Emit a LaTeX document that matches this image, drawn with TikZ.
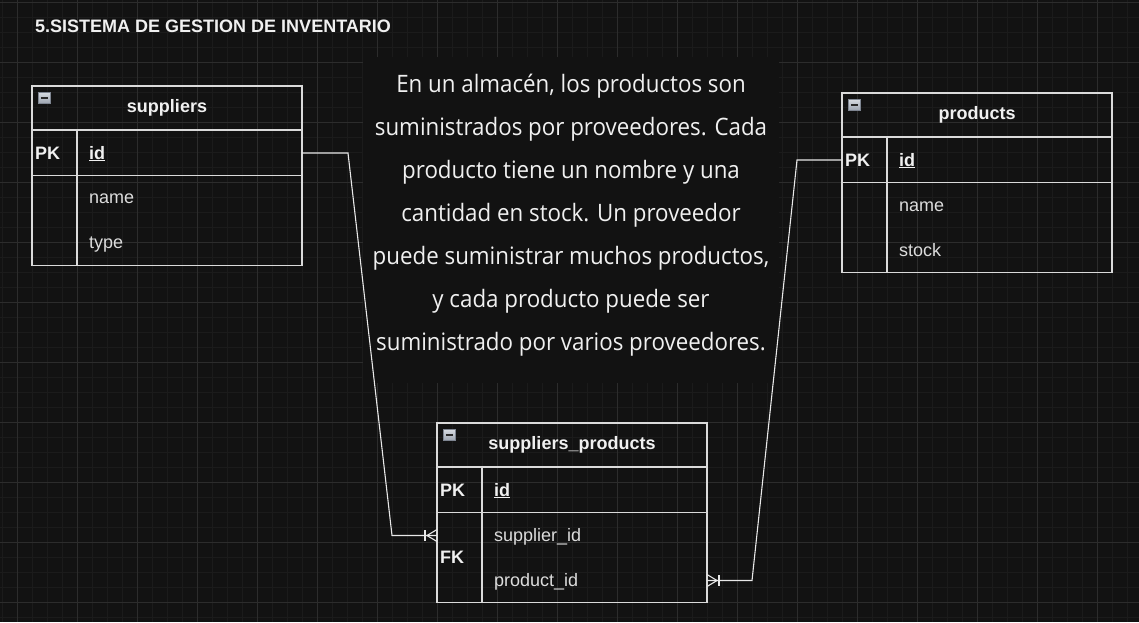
\documentclass[tikz,border=0pt]{standalone}
\usepackage{fontspec}
\setmainfont{Liberation Sans}
\newfontfamily\parafont[FakeStretch=0.93]{Open Sans}
\definecolor{bg}{HTML}{121212}
\definecolor{gminor}{HTML}{1B1B1B}
\definecolor{gminorb}{HTML}{1B1B1B}
\definecolor{gmajor}{HTML}{2C2C2C}
\definecolor{linec}{HTML}{DADADA}
\definecolor{connc}{HTML}{E8E8E8}
\definecolor{txt}{HTML}{F0F0F0}
\definecolor{attrc}{HTML}{DCDCDC}
\definecolor{icb}{HTML}{7E8591}
\definecolor{icl}{HTML}{D7DBE1}
\definecolor{icd}{HTML}{9CA4B0}
\definecolor{icm}{HTML}{2A2A2A}
\tikzset{
  frame/.style={draw=linec, line width=1.3pt, minimum width=270pt, inner sep=0pt, outer sep=0pt, anchor=north west},
  rowbox/.style={minimum width=270pt, minimum height=45pt, inner sep=0pt, outer sep=0pt, anchor=north west},
  ttl/.style={font=\bfseries\fontsize{18}{22}\selectfont, text=txt, anchor=base, inner sep=0pt},
  keyt/.style={font=\bfseries\fontsize{18}{22}\selectfont, text=txt, anchor=base west, inner sep=0pt},
  attrt/.style={font=\fontsize{18}{22}\selectfont, text=attrc, anchor=base west, inner sep=0pt},
  icon/.style={draw=icb, line width=0.8pt, top color=icl, bottom color=icd, minimum width=12pt, minimum height=11pt, inner sep=0pt, anchor=north west,
    path picture={\draw[line width=1.6pt, draw=icm] ([xshift=2.5pt]path picture bounding box.west) -- ([xshift=-2.5pt]path picture bounding box.east);}},
  conn/.style={draw=connc, line width=1.1pt},
  minorg/.style={draw=gminor, line width=0.8pt},
  majorg/.style={draw=gmajor, line width=1pt},
  descbox/.style={fill=bg, minimum width=416pt, minimum height=326pt, inner sep=0pt},
  desct/.style={font=\parafont\fontsize{24}{43}\selectfont, align=center, text=txt, inner sep=0pt},
  titlet/.style={font=\bfseries\fontsize{18}{22}\selectfont, text=txt, anchor=base west, inner sep=0pt}
}
\begin{document}
\begin{tikzpicture}[x=1pt,y=-1pt]
\useasboundingbox (0,0) rectangle (1139,622);
\fill[bg] (0,0) rectangle (1139,622);
% grid
\foreach \x in {2.3,17.3,...,1139} \draw[minorg] (\x,0) -- (\x,622);
\foreach \y in {2.3,17.3,...,622} \draw[minorg] (0,\y) -- (1139,\y);
\foreach \x in {17.3,77.3,...,1139} \draw[majorg] (\x,0) -- (\x,622);
\foreach \y in {2.3,62.3,...,622} \draw[majorg] (0,\y) -- (1139,\y);

% title
\node[titlet] (title) at (35,32) {5.SISTEMA DE GESTION DE INVENTARIO};

% description box
\node[descbox] (desc) at (571,220) {};
\node[desct] (desc-t) at (571,215) {En un almacén, los productos son\\suministrados por proveedores. Cada\\producto tiene un nombre y una\\cantidad en stock. Un proveedor\\puede suministrar muchos productos,\\y cada producto puede ser\\suministrado por varios proveedores.};

% ---------- suppliers ----------
\node[frame, minimum height=44pt] (sup) at (32,86) {};
\node[frame, minimum height=45pt] (sup-pk) at (32,130.5) {};
\node[frame, minimum height=90pt] (sup-at) at (32,175.5) {};
\draw[draw=linec, line width=1.3pt] ([xshift=45pt]sup-pk.north west) -- ([xshift=45pt]sup-at.south west);
\node[icon] (sup-ic) at (38,92) {};
\node[ttl] (sup-t) at (167,112) {suppliers};
\node[keyt] (sup-pkl) at (35,159) {PK};
\node[keyt] (sup-id) at (89,159) {\underline{id}};
\node[attrt] (sup-name) at (89,203) {name};
\node[attrt] (sup-type) at (89,248) {type};

% ---------- products ----------
\node[frame, minimum height=44pt] (prd) at (842,93) {};
\node[frame, minimum height=45pt] (prd-pk) at (842,137.5) {};
\node[frame, minimum height=90pt] (prd-at) at (842,182.5) {};
\draw[draw=linec, line width=1.3pt] ([xshift=45pt]prd-pk.north west) -- ([xshift=45pt]prd-at.south west);
\node[icon] (prd-ic) at (848,99) {};
\node[ttl] (prd-t) at (977,119) {products};
\node[keyt] (prd-pkl) at (845,166) {PK};
\node[keyt] (prd-id) at (899,166) {\underline{id}};
\node[attrt] (prd-name) at (899,211) {name};
\node[attrt] (prd-stock) at (899,256) {stock};

% ---------- suppliers_products ----------
\node[frame, minimum height=44pt] (sp) at (437,423) {};
\node[frame, minimum height=45pt] (sp-pk) at (437,467.5) {};
\node[frame, minimum height=90pt] (sp-at) at (437,512.5) {};
\draw[draw=linec, line width=1.3pt] ([xshift=45pt]sp-pk.north west) -- ([xshift=45pt]sp-at.south west);
\node[icon] (sp-ic) at (443,429) {};
\node[ttl] (sp-t) at (572,449) {suppliers\_products};
\node[keyt] (sp-pkl) at (440,496) {PK};
\node[keyt] (sp-id) at (494,496) {\underline{id}};
\node[keyt] (sp-fkl) at (440,563.5) {FK};
\node[rowbox] (sp-sid) at (437,513) {};
\node[rowbox] (sp-pid) at (437,558) {};
\node[attrt] (sp-sidt) at (494,541) {supplier\_id};
\node[attrt] (sp-pidt) at (494,586) {product\_id};

% ---------- connectors ----------
\draw[conn] (sup-pk.east) -- ++(46,0) -- ([xshift=-45pt]sp-sid.west) -- (sp-sid.west);
\draw[conn] ([xshift=-12pt,yshift=-5.7pt]sp-sid.west) -- ([xshift=-12pt,yshift=5.7pt]sp-sid.west);
\draw[conn] ([xshift=-10pt]sp-sid.west) -- ([yshift=-6pt]sp-sid.west);
\draw[conn] ([xshift=-10pt]sp-sid.west) -- ([yshift=6pt]sp-sid.west);

\draw[conn] (prd-pk.west) -- ++(-45,0) -- ([xshift=45pt]sp-pid.east) -- (sp-pid.east);
\draw[conn] ([xshift=12pt,yshift=-5.7pt]sp-pid.east) -- ([xshift=12pt,yshift=5.7pt]sp-pid.east);
\draw[conn] ([xshift=10pt]sp-pid.east) -- ([yshift=-6pt]sp-pid.east);
\draw[conn] ([xshift=10pt]sp-pid.east) -- ([yshift=6pt]sp-pid.east);
\end{tikzpicture}
\end{document}
